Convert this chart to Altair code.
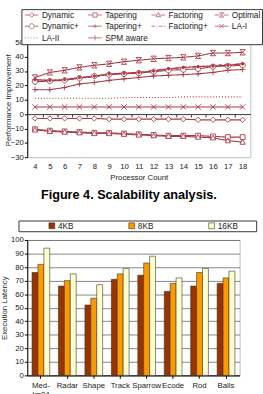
import altair as alt
import pandas as pd

FONT = "Liberation Sans"
MAROON = "#a63a46"
TXT = "#222222"

# ---------------- top chart data ----------------
procs = list(range(4, 19))
series_names = ["Dynamic", "Tapering", "Factoring", "Optimal", "Dynamic+",
                "Tapering+", "Factoring+", "LA-I", "LA-II", "SPM aware"]
dynamic = [-3, -3, -3, -3, -3, -3.5, -3.5, -3.5, -3.5, -3.5, -3.5, -4, -4, -4, -4]
tapering = [-10.5, -11.5, -12, -12.5, -13, -13, -13.5, -14, -14.5, -15, -15, -15, -15.5, -16, -16]
factoring = [-11, -12, -12.5, -13, -13.5, -13.5, -14, -14.5, -15, -15.5, -15.5, -16, -16.5, -18.5, -19.5]
optimal = [25.5, 29, 30.5, 32.5, 34, 35, 36.5, 37.5, 38.5, 39, 39.5, 40.5, 42.5, 42.5, 43]
dynamic_plus = [22.5, 23, 23.5, 25, 26.5, 27.5, 28, 28.5, 29.5, 30.5, 31, 31.5, 33, 33.5, 34]
tapering_plus = [24, 23.5, 24, 25.5, 26.5, 28, 28.5, 29, 30, 31.5, 32.5, 33, 33.5, 34, 35]
factoring_plus = [23.5, 23.5, 24, 25, 26, 27.5, 28.5, 29, 30.5, 31.5, 32.5, 33, 34, 34.5, 35]
la_i = [5, 5, 5, 5, 5, 5, 5, 5, 5, 5, 5, 5, 5, 5, 5]
la_ii = [11, 11, 11, 11, 11, 11, 11.5, 11.5, 11.5, 11.5, 12, 12, 12, 12, 12]
spm_aware = [17, 17, 18.5, 21, 22, 23.5, 24.5, 25.5, 26.5, 27, 27.5, 28, 29, 30.5, 31]
y_ticks = [-30, -20, -10, 0, 10, 20, 30, 40, 50]
zero_ticks = [4.5, 5.5, 6.5, 7.5, 8.5, 9.5, 10.5, 11.5, 12.5, 13.5, 14.5, 15.5, 16.5, 17.5]

all_vals = [dynamic, tapering, factoring, optimal, dynamic_plus,
            tapering_plus, factoring_plus, la_i, la_ii, spm_aware]
rows = []
for name, vals in zip(series_names, all_vals):
    for p, v in zip(procs, vals):
        rows.append({"series": name, "procs": p, "value": v})
df = pd.DataFrame(rows)

# line styles
dash_range = [[1, 0]] * 6 + [[4, 2, 1, 2], [1, 0], [1, 2], [1, 0]]

# plot markers
marker_series = ["Dynamic", "Tapering", "Factoring", "Optimal", "Dynamic+",
                 "Tapering+", "LA-I", "SPM aware"]
marker_paths = [
    "M0,-1L1,0L0,1L-1,0Z",
    "M-0.9,-0.9H0.9V0.9H-0.9Z",
    "M0,-1L1,0.8H-1Z",
    "M-1,-1H1L-1,1H1Z",
    "M-1,0A1,1,0,1,0,1,0A1,1,0,1,0,-1,0Z",
    "M-0.5,0A0.5,0.5,0,1,0,0.5,0A0.5,0.5,0,1,0,-0.5,0Z",
    "M-1,-1L1,1M-1,1L1,-1",
    "M-1,0H1M0,-1V1",
]
marker_fill = ["white", "white", "white", "white", "white", MAROON, "white", "white"]

# legend glyphs: line + marker
legend_paths = [
    "M-1.75,0H-0.6M0.6,0H1.75M-0.6,0L0,-0.6L0.6,0L0,0.6Z",
    "M-1.75,0H-0.55M0.55,0H1.75M-0.55,-0.55H0.55V0.55H-0.55Z",
    "M-1.75,0H-0.6M0.6,0H1.75M0,-0.65L0.6,0.45H-0.6Z",
    "M-1.75,0H-0.55M0.55,0H1.75M-0.55,-0.55H0.55L-0.55,0.55H0.55Z",
    "M-1.75,0H-0.65M0.65,0H1.75M-0.65,0A0.65,0.65,0,1,0,0.65,0A0.65,0.65,0,1,0,-0.65,0Z",
    "M-1.75,0H1.75M-0.3,0A0.3,0.3,0,1,0,0.3,0A0.3,0.3,0,1,0,-0.3,0Z",
    "M-1.75,0H-0.85M-0.45,0H-0.25M0.15,0H1.05M1.45,0H1.75",
    "M-1.75,0H1.75M-0.55,-0.55L0.55,0.55M-0.55,0.55L0.55,-0.55",
    "M-1.75,0H-1.5M-1,0H-0.75M-0.25,0H0M0.5,0H0.75M1.25,0H1.5",
    "M-1.75,0H1.75M0,-0.65V0.65",
]

W1, H1 = 229, 118
YMIN, YMAX = -30, 50
xscale = alt.Scale(domain=[3.48, 18.52], nice=False, zero=False)
yscale = alt.Scale(domain=[YMIN, YMAX], nice=False, zero=False)
zero_offset = -(0 - YMIN) / (YMAX - YMIN) * H1

y_axis_top = alt.Axis(orient="left", title="Performance Improvement", values=y_ticks,
                      grid=False, tickSize=3, domainColor="#000", tickColor="#000",
                      labelFontSize=8, labelPadding=1, labelColor=TXT,
                      titleFontSize=8, titleFontWeight="normal",
                      titleX=-15, titleColor=TXT)

lines = alt.Chart(df).mark_line(color=MAROON, strokeWidth=1.1).encode(
    x=alt.X("procs:Q", scale=xscale,
            axis=alt.Axis(orient="bottom", title="Processor Count", values=procs,
                          ticks=False, domain=False, grid=False,
                          labelFontSize=8, labelPadding=6, labelColor=TXT,
                          titleFontSize=8, titleFontWeight="normal",
                          titlePadding=3, titleColor=TXT)),
    y=alt.Y("value:Q", scale=yscale, axis=y_axis_top),
    strokeDash=alt.StrokeDash("series:N",
                              scale=alt.Scale(domain=series_names, range=dash_range),
                              legend=None),
)

zero_axis = alt.Chart(df).mark_point(opacity=0).encode(
    x=alt.X("procs:Q", scale=xscale,
            axis=alt.Axis(orient="bottom", offset=zero_offset, values=zero_ticks,
                          labels=False, title=None, tickSize=3, grid=False,
                          domainColor="#333", tickColor="#333")),
    y=alt.Y("value:Q", scale=yscale, axis=y_axis_top),
)

points = alt.Chart(df[df["series"].isin(marker_series)]).mark_point(
    filled=True, stroke=MAROON, strokeWidth=0.9, opacity=1, size=30
).encode(
    x=alt.X("procs:Q", scale=xscale, axis=None),
    y=alt.Y("value:Q", scale=yscale, axis=y_axis_top),
    shape=alt.Shape("series:N", scale=alt.Scale(domain=marker_series, range=marker_paths),
                    legend=None),
    fill=alt.Fill("series:N", scale=alt.Scale(domain=marker_series, range=marker_fill),
                  legend=None),
)

legend_df = pd.DataFrame({"series": series_names,
                          "procs": [None] * len(series_names),
                          "value": [None] * len(series_names)})
legend_layer = alt.Chart(legend_df).mark_point(
    filled=False, color=MAROON, strokeWidth=1
).encode(
    x=alt.X("procs:Q", scale=xscale, axis=None),
    y=alt.Y("value:Q", scale=yscale, axis=y_axis_top),
    shape=alt.Shape("series:N", scale=alt.Scale(domain=series_names, range=legend_paths),
                    legend=alt.Legend(orient="none", legendX=-6, legendY=-34,
                                      direction="horizontal", columns=4, title=None,
                                      symbolSize=64, symbolStrokeWidth=1,
                                      symbolStrokeColor=MAROON,
                                      symbolFillColor="transparent",
                                      symbolOffset=5, labelOffset=6,
                                      labelFont=FONT, labelFontSize=8.5,
                                      labelColor=TXT, strokeColor="#333",
                                      fillColor="white", padding=1,
                                      rowPadding=1, columnPadding=1,
                                      gridAlign="all")),
)

top = alt.layer(lines, zero_axis, points, legend_layer).resolve_scale(
    shape="independent"
).resolve_legend(shape="independent").resolve_axis(x="independent").properties(
    width=W1, height=H1)

# ---------------- bottom chart data ----------------
benchmarks = ["Med-Im04", "Radar", "Shape", "Track", "Sparrow", "Ecode", "Rod", "Balls"]
cache_sizes = ["4KB", "8KB", "16KB"]
lat_4kb = [76, 66, 52, 71, 74, 62, 66, 68]
lat_8kb = [82, 70, 57, 75, 83, 68, 76, 72]
lat_16kb = [94, 75, 67, 79, 88, 72, 79, 77]
bar_colors = ["#993300", "#ff9900", "#ffffcc"]
lat_ticks = [0, 10, 20, 30, 40, 50, 60, 70, 80, 90, 100]

rows2 = []
for size, vals in zip(cache_sizes, [lat_4kb, lat_8kb, lat_16kb]):
    for b, v in zip(benchmarks, vals):
        rows2.append({"bench": b, "size": size, "latency": v})
df2 = pd.DataFrame(rows2)

bars = alt.Chart(df2).mark_bar(stroke="#333", strokeWidth=0.6).encode(
    x=alt.X("bench:N", sort=benchmarks,
            scale=alt.Scale(paddingInner=0.33, paddingOuter=0.18),
            axis=alt.Axis(title=None, labelAngle=0, tickSize=3, labelFontSize=8,
                          labelColor=TXT, labelPadding=3, domainColor="#000",
                          tickColor="#000",
                          labelExpr="datum.label == 'Med-Im04' ? ['Med-', 'Im04'] : datum.label")),
    xOffset=alt.XOffset("size:N", sort=cache_sizes, scale=alt.Scale(domain=cache_sizes)),
    y=alt.Y("latency:Q", scale=alt.Scale(domain=[0, 100], nice=False),
            axis=alt.Axis(orient="left", title="Execution Latency", values=lat_ticks,
                          tickSize=3, gridColor="#666", gridWidth=0.8,
                          domainColor="#000", tickColor="#000", labelFontSize=8,
                          labelColor=TXT, labelPadding=1, titleFontSize=8,
                          titleFontWeight="normal", titleColor=TXT, titleX=-19)),
    color=alt.Color("size:N", sort=cache_sizes,
                    scale=alt.Scale(domain=cache_sizes, range=bar_colors),
                    legend=alt.Legend(orient="none", legendX=-9, legendY=-20,
                                      direction="horizontal", columns=3,
                                      title=" ", titleOrient="right", titlePadding=18,
                                      symbolType="square", symbolSize=36,
                                      symbolStrokeColor="#333", symbolStrokeWidth=0.6,
                                      symbolOffset=29, labelOffset=2,
                                      labelFont=FONT, labelFontSize=8.5,
                                      labelColor=TXT, strokeColor="#333",
                                      fillColor="white", padding=1,
                                      columnPadding=21, gridAlign="all")),
).properties(
    width=218, height=139,
    title=alt.TitleParams("Figure 4. Scalability analysis.", fontSize=13,
                          fontWeight="bold", font=FONT, color="#000",
                          anchor="middle", frame="bounds", offset=19),
)

chart = alt.vconcat(top, bars, spacing=6).resolve_scale(
    color="independent", shape="independent", fill="independent",
    strokeDash="independent"
).resolve_legend(
    color="independent", shape="independent", fill="independent",
    strokeDash="independent"
).properties(
    padding={"left": 0, "top": 3, "right": 0, "bottom": 0}
).configure(font=FONT).configure_view(stroke="#bdbdbd")

chart.save("out.html", embed_options={"renderer": "svg", "actions": False})
